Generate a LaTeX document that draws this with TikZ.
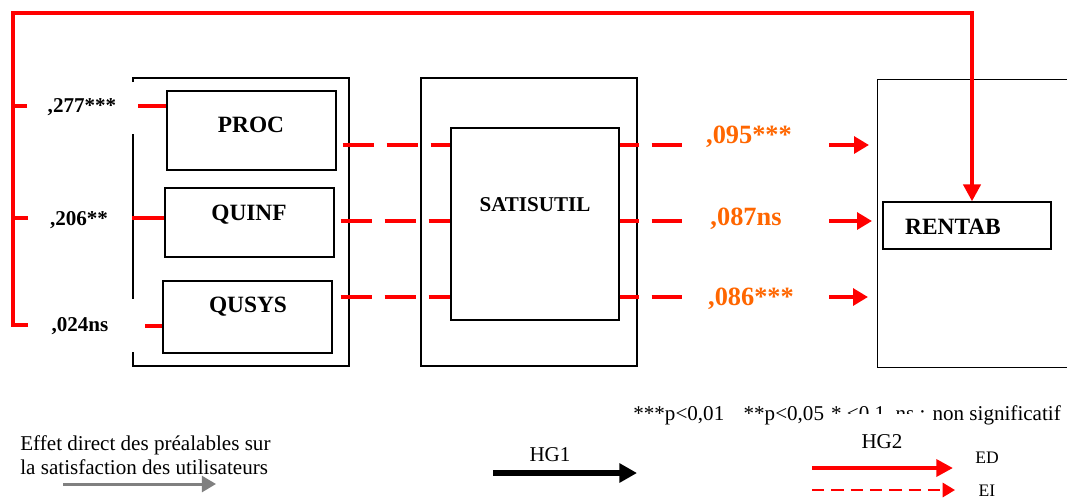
\documentclass[tikz,border=0pt]{standalone}
\usepackage{fontspec}
\setmainfont{Liberation Serif}
\usetikzlibrary{arrows.meta}
\definecolor{edred}{RGB}{255,0,0}
\definecolor{coeforange}{RGB}{255,102,0}
\definecolor{hggray}{RGB}{128,128,128}

\begin{document}
\begin{tikzpicture}[x=0.02cm, y=-0.02cm, >={Triangle[length=8.5pt,width=9.5pt]},
  box/.style={draw, line width=0.75pt, inner sep=0pt},
  varname/.style={font=\bfseries\fontsize{13.3}{15}\selectfont, inner sep=0pt},
  coef/.style={font=\bfseries\fontsize{12}{14}\selectfont, inner sep=0pt},
  orangecoef/.style={text=coeforange, font=\bfseries\fontsize{15}{17}\selectfont, inner sep=0pt},
  legend/.style={font=\fontsize{12}{13.6}\selectfont, inner sep=0pt},
  ed/.style={edred, line width=2.6pt},
  ei/.style={edred, line width=2.3pt, dash pattern=on 0.62cm off 0.26cm}]
\useasboundingbox (0,0) rectangle (1067,498);

% antecedents
\draw[line width=0.75pt] (133,82) |- (349,78) |- (133,366) -- (133,352);
\draw[line width=0.75pt] (133,134) -- (133,299);
\node[box, minimum width=3.38cm, minimum height=1.58cm] (proc) at (251.5,130.5) {};
\node[box, minimum width=3.38cm, minimum height=1.38cm] (quinf) at (249.5,222.5) {};
\node[box, minimum width=3.38cm, minimum height=1.44cm] (qusys) at (247.5,317) {};
\node[varname] (proctxt) at (251,125) {PROC};
\node[varname] (quinftxt) at (249,215) {QUINF};
\node[varname] (qusystxt) at (248,307) {QUSYS};

% satisfaction
\node[box, minimum width=4.32cm, minimum height=5.76cm] (satisout) at (529,222) {};
\node[box, minimum width=3.36cm, minimum height=3.84cm] (satis) at (535,224) {};
\node[varname, font=\bfseries\fontsize{12}{14}\selectfont] (satistxt) at (535,205) {SATISUTIL};

% rentabilite
\node[box, anchor=north west, minimum width=4.6cm, minimum height=5.76cm] (rentout) at (877,79) {};
\node[box, minimum width=3.36cm, minimum height=0.94cm] (rentab) at (967,225.5) {};
\node[varname] (rentabtxt) at (953,227) {RENTAB};

% direct effects
\node[coef] (c277) at (82,107) {,277***};
\node[coef] (c206) at (79,220) {,206**};
\node[coef] (c024) at (80,326) {,024ns};
\coordinate (spine) at (13,13);
\coordinate (loopend) at (28,325);
\coordinate (loopturn) at (972,13);
\coordinate (t1) at (27,106);
\coordinate (t2) at (28,218);
\draw[ed, ->, >={Triangle[length=9.6pt,width=9.6pt]}] (loopend) -- (loopend -| spine) |- (loopturn) -- (loopturn |- rentab.north);
\draw[ed] (t1) -- (t1 -| spine);
\draw[ed] (t2) -- (t2 -| spine);
\coordinate (s1) at (138,106);
\coordinate (s2) at (132,218);
\coordinate (s3) at (145,326);
\draw[ed] (s1) -- (s1 -| proc.west);
\draw[ed] (s2) -- (s2 -| quinf.west);
\draw[ed] (s3) -- (s3 -| qusys.west);

% indirect effects
\coordinate (r1) at (0,145);
\coordinate (r2) at (0,221);
\coordinate (r3) at (0,297);
\draw[ei, shorten <=0.12cm] (proc.east |- r1) -- (satis.west |- r1);
\draw[ei, shorten <=0.12cm] (quinf.east |- r2) -- (satis.west |- r2);
\draw[ei, shorten <=0.16cm] (qusys.east |- r3) -- (satis.west |- r3);
\coordinate (e1) at (682,145);
\coordinate (e2) at (682,221);
\coordinate (e3) at (682,297);
\draw[ei, dash phase=0.24cm] (satis.east |- r1) -- (e1);
\draw[ei, dash phase=0.24cm] (satis.east |- r2) -- (e2);
\draw[ei, dash phase=0.24cm] (satis.east |- r3) -- (e3);
\node[orangecoef] (c095) at (749,137) {,095***};
\node[orangecoef] (c087) at (746,219) {,087ns};
\node[orangecoef] (c086) at (751,299) {,086***};
\coordinate (a1) at (829,145);
\coordinate (a2) at (829,221);
\coordinate (a3) at (829,297);
\draw[ed, ->, shorten >=0.16cm] (a1) -- (rentout.west |- a1);
\draw[ed, ->, shorten >=0.1cm] (a2) -- (rentout.west |- a2);
\draw[ed, ->, shorten >=0.18cm] (a3) -- (rentout.west |- a3);

% legend
\node[legend, anchor=west] (signif) at (633,415) {***p<0,01\hspace{11pt}**p<0,05\hspace{4pt}* <0,1\ \ ns : non significatif};
\node[legend, fill=white, minimum width=1.84cm, minimum height=0.84cm, text height=15.4pt] (hg2) at (882,435) {HG2};
\node[legend, align=left, anchor=west] (effet) at (20,455) {Effet direct des préalables sur\\la satisfaction des utilisateurs};
\coordinate (g1) at (63,484);
\coordinate (g2) at (216,484);
\draw[hggray, line width=1.7pt, -{Triangle[length=8pt,width=9pt]}] (g1) -- (g2);
\node[legend] (hg1) at (550,455) {HG1};
\coordinate (h1) at (493,473);
\coordinate (h2) at (637,473);
\draw[line width=3.4pt, -{Triangle[length=10pt,width=10.5pt]}] (h1) -- (h2);
\coordinate (d1) at (812,468);
\coordinate (d2) at (953,468);
\draw[ed, ->, >={Triangle[length=9.5pt,width=9.5pt]}] (d1) -- (d2);
\node[font=\fontsize{10}{12}\selectfont, inner sep=0pt] (edtxt) at (987,458) {ED};
\coordinate (i1) at (812,490);
\coordinate (i2) at (955,490);
\draw[edred, line width=1.5pt, dash pattern=on 7pt off 4pt, -{Triangle[length=7pt,width=8pt]}] (i1) -- (i2);
\node[font=\fontsize{10}{12}\selectfont, inner sep=0pt] (eitxt) at (987,491) {EI};
\end{tikzpicture}
\end{document}
